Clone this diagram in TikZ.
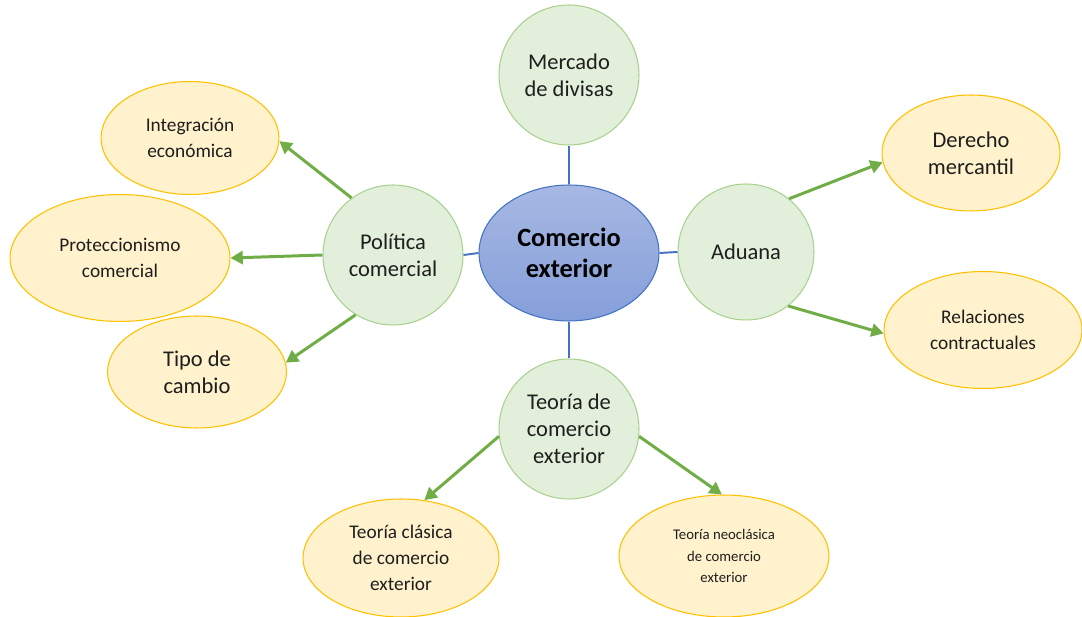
\documentclass[tikz,border=0pt]{standalone}
\usepackage{fontspec}
\setmainfont{Carlito}
\usepackage{tikz}
\usetikzlibrary{arrows.meta, shapes.geometric}

\definecolor{hubtop}{HTML}{A7B8E3}
\definecolor{hubbot}{HTML}{859FDA}
\definecolor{hubline}{HTML}{4472C4}
\definecolor{subfill}{HTML}{E2EFDA}
\definecolor{subline}{HTML}{A9D18E}
\definecolor{leaffill}{HTML}{FFF2CC}
\definecolor{leafline}{HTML}{FFC000}
\definecolor{arrowgreen}{HTML}{70AD47}
\definecolor{txt}{HTML}{1E1E1E}

\begin{document}
\begin{tikzpicture}[x=0.02cm, y=-0.02cm,
    hub/.style={ellipse, draw=hubline, line width=0.6pt, top color=hubtop, bottom color=hubbot,
        minimum width=3.6cm, minimum height=2.72cm, inner sep=0pt, align=center,
        font=\fontsize{15}{18}\selectfont\bfseries, text=black},
    sub/.style={circle, draw=subline, line width=0.6pt, fill=subfill, minimum size=2.8cm,
        inner sep=0pt, align=center, font=\fontsize{12.8}{15.4}\selectfont, text=txt},
    leaf/.style={ellipse, draw=leafline, line width=0.6pt, fill=leaffill, inner sep=0pt,
        align=center, font=\fontsize{11}{14.6}\selectfont, text=txt},
    link/.style={hubline, line width=1.1pt},
    arr/.style={arrowgreen, line width=1.7pt, -{Triangle[length=7pt,width=7.5pt]}}]
    \useasboundingbox (0,0) rectangle (1082,617);

    % Center and first level
    \node[hub] (comex) at (569,253) {Comercio\\exterior};
    \node[sub] (mercado) at (569,75) {Mercado\\de divisas};
    \node[sub] (politica) at (393,255) {Política\\comercial};
    \node[sub, minimum size=2.72cm] (aduana) at (746,252) {Aduana};
    \node[sub] (teoria) at (569,429) {Teoría de\\comercio\\exterior};

    \draw[link] (comex.north) -- (mercado.south);
    \draw[link] (comex.south) -- (teoria.north);
    \draw[link] (comex.west) -- (politica.east);
    \draw[link] (comex.east) -- (aduana.west);

    % Second level
    \node[leaf, minimum width=3.56cm, minimum height=2.26cm] (integ) at (190,138) {Integración\\económica};
    \node[leaf, minimum width=4.4cm, minimum height=2.54cm] (protec) at (120,258) {Proteccionismo\\comercial};
    \node[leaf, minimum width=3.58cm, minimum height=2.24cm, font=\fontsize{12.8}{15.4}\selectfont] (tipo) at (197,372) {Tipo de\\cambio};
    \node[leaf, minimum width=3.56cm, minimum height=2.32cm, font=\fontsize{12.8}{15.4}\selectfont] (derecho) at (971,153) {Derecho\\mercantil};
    \node[leaf, minimum width=3.96cm, minimum height=2.34cm] (relac) at (983,330) {Relaciones\\contractuales};
    \node[leaf, minimum width=3.92cm, minimum height=2.36cm] (clasica) at (401,558) {Teoría clásica\\de comercio\\exterior};
    \node[leaf, minimum width=4.2cm, minimum height=2.44cm, font=\fontsize{8.4}{12}\selectfont] (neo) at (724,556) {Teoría neoclásica\\de comercio\\exterior};

    % Arrows
    \draw[arr] (politica.126) -- (integ.-2);
    \draw[arr] (politica.west) -- (protec.east);
    \draw[arr] (politica.238) -- (tipo.6);
    \draw[arr] (aduana.51) -- (derecho.186);
    \draw[arr] (aduana.-52) -- (relac.182);
    \draw[arr] (teoria.186) -- (clasica.68);
    \draw[arr] (teoria.-6) -- (neo.92);
\end{tikzpicture}
\end{document}
